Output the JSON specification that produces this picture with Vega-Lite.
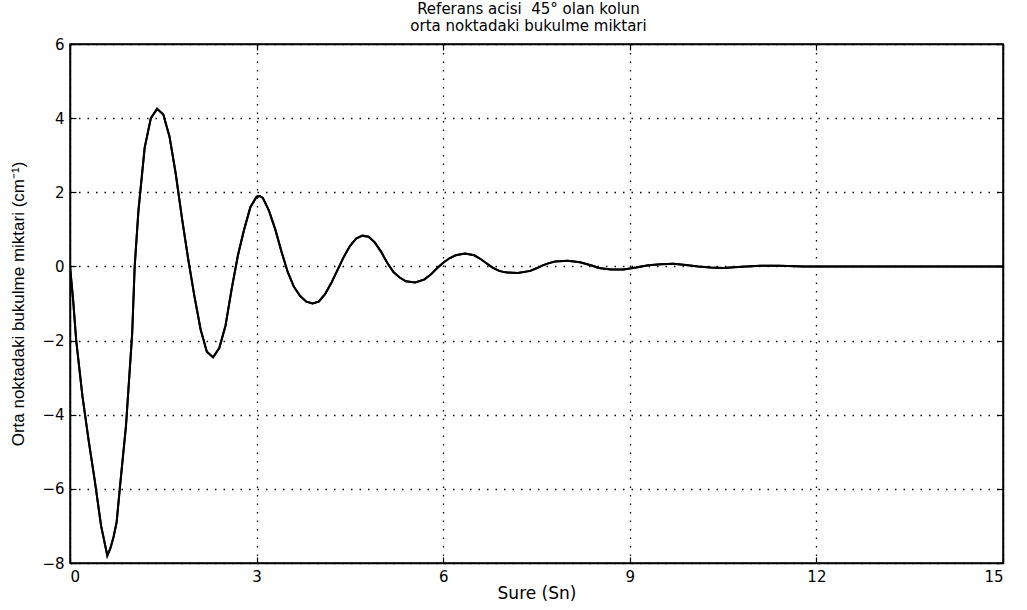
{
  "$schema": "https://vega.github.io/schema/vega-lite/v6.json",
  "width": 933,
  "height": 519,
  "autosize": "none",
  "padding": {"left": 70, "top": 44, "right": 24, "bottom": 47},
  "background": "white",
  "title": {
    "text": ["Referans acisi \u00a045° olan kolun", "orta noktadaki bukulme miktari"],
    "font": "DejaVu Sans",
    "fontSize": 15,
    "fontWeight": "normal",
    "color": "black",
    "anchor": "middle",
    "dx": -8,
    "offset": 3,
    "lineHeight": 17
  },
  "config": {
    "view": {"stroke": "black", "strokeWidth": 1.5},
    "axis": {
      "labelFont": "DejaVu Sans",
      "titleFont": "DejaVu Sans",
      "labelFontSize": 15,
      "titleFontSize": 17,
      "titleFontWeight": "normal",
      "labelColor": "black",
      "titleColor": "black",
      "domainColor": "black",
      "domainWidth": 1.5,
      "tickColor": "black",
      "tickSize": -6,
      "tickWidth": 1.2,
      "grid": false
    }
  },
  "data": {
    "values": [
      {"t": 0, "y": 0}, {"t": 0.05, "y": -0.9}, {"t": 0.1, "y": -2.0}, {"t": 0.2, "y": -3.5},
      {"t": 0.3, "y": -4.7}, {"t": 0.4, "y": -5.8}, {"t": 0.5, "y": -7.0}, {"t": 0.6, "y": -7.8},
      {"t": 0.65, "y": -7.6}, {"t": 0.7, "y": -7.3}, {"t": 0.75, "y": -6.9}, {"t": 0.8, "y": -6.0},
      {"t": 0.9, "y": -4.3}, {"t": 1.0, "y": -1.8}, {"t": 1.04, "y": 0}, {"t": 1.1, "y": 1.5},
      {"t": 1.2, "y": 3.2}, {"t": 1.3, "y": 4.0}, {"t": 1.4, "y": 4.25}, {"t": 1.5, "y": 4.1},
      {"t": 1.6, "y": 3.5}, {"t": 1.7, "y": 2.5}, {"t": 1.8, "y": 1.3}, {"t": 1.9, "y": 0.2},
      {"t": 2.0, "y": -0.8}, {"t": 2.1, "y": -1.7}, {"t": 2.2, "y": -2.3}, {"t": 2.3, "y": -2.45},
      {"t": 2.4, "y": -2.2}, {"t": 2.5, "y": -1.6}, {"t": 2.6, "y": -0.6}, {"t": 2.7, "y": 0.3},
      {"t": 2.8, "y": 1.0}, {"t": 2.9, "y": 1.6}, {"t": 3.0, "y": 1.88}, {"t": 3.05, "y": 1.9},
      {"t": 3.1, "y": 1.85}, {"t": 3.2, "y": 1.5}, {"t": 3.3, "y": 1.0}, {"t": 3.4, "y": 0.4},
      {"t": 3.5, "y": -0.15}, {"t": 3.6, "y": -0.55}, {"t": 3.7, "y": -0.8}, {"t": 3.8, "y": -0.95},
      {"t": 3.9, "y": -1.0}, {"t": 4.0, "y": -0.95}, {"t": 4.1, "y": -0.75}, {"t": 4.2, "y": -0.45},
      {"t": 4.3, "y": -0.1}, {"t": 4.4, "y": 0.25}, {"t": 4.5, "y": 0.55}, {"t": 4.6, "y": 0.75},
      {"t": 4.7, "y": 0.83}, {"t": 4.8, "y": 0.8}, {"t": 4.9, "y": 0.65}, {"t": 5.0, "y": 0.4},
      {"t": 5.1, "y": 0.1}, {"t": 5.2, "y": -0.15}, {"t": 5.3, "y": -0.3}, {"t": 5.4, "y": -0.4},
      {"t": 5.55, "y": -0.43}, {"t": 5.7, "y": -0.35}, {"t": 5.8, "y": -0.22}, {"t": 5.9, "y": -0.05},
      {"t": 6.0, "y": 0.1}, {"t": 6.1, "y": 0.22}, {"t": 6.2, "y": 0.3}, {"t": 6.35, "y": 0.35},
      {"t": 6.5, "y": 0.3}, {"t": 6.6, "y": 0.2}, {"t": 6.7, "y": 0.08}, {"t": 6.8, "y": -0.04},
      {"t": 6.9, "y": -0.12}, {"t": 7.0, "y": -0.16}, {"t": 7.2, "y": -0.18}, {"t": 7.4, "y": -0.12},
      {"t": 7.5, "y": -0.05}, {"t": 7.6, "y": 0.03}, {"t": 7.7, "y": 0.09}, {"t": 7.8, "y": 0.13},
      {"t": 8.0, "y": 0.15}, {"t": 8.2, "y": 0.11}, {"t": 8.4, "y": 0.02}, {"t": 8.5, "y": -0.04},
      {"t": 8.7, "y": -0.08}, {"t": 8.9, "y": -0.08}, {"t": 9.1, "y": -0.03}, {"t": 9.3, "y": 0.03},
      {"t": 9.5, "y": 0.06}, {"t": 9.7, "y": 0.07}, {"t": 9.9, "y": 0.04}, {"t": 10.1, "y": 0},
      {"t": 10.3, "y": -0.03}, {"t": 10.5, "y": -0.04}, {"t": 10.8, "y": -0.01}, {"t": 11.1, "y": 0.02},
      {"t": 11.4, "y": 0.02}, {"t": 11.8, "y": 0}, {"t": 12.5, "y": 0}, {"t": 13.5, "y": 0},
      {"t": 15, "y": 0}
    ]
  },
  "layer": [
    {
      "mark": {"type": "line", "color": "black", "strokeWidth": 2, "clip": true},
      "encoding": {
        "x": {
          "field": "t",
          "type": "quantitative",
          "scale": {"domain": [0, 15], "nice": false, "zero": false},
          "axis": {"values": [0, 3, 6, 9, 12, 15], "title": "Sure (Sn)", "labelPadding": 12, "titlePadding": 1, "grid": true, "gridColor": "black", "gridDash": [1.5, 7], "gridWidth": 1.3, "gridOpacity": 1}
        },
        "y": {
          "field": "y",
          "type": "quantitative",
          "scale": {"domain": [-8, 6], "nice": false},
          "axis": {"values": [-8, -6, -4, -2, 0, 2, 4, 6], "title": "Orta noktadaki bukulme miktari (cm⁻¹)", "titleFont": "Liberation Sans", "titleFontSize": 17, "labelPadding": 12, "titlePadding": 14, "grid": true, "gridColor": "black", "gridDash": [1.5, 7], "gridWidth": 1.3, "gridOpacity": 1}
        }
      }
    },
    {
      "mark": {"type": "line", "color": "black", "strokeWidth": 2, "clip": true},
      "encoding": {
        "x": {
          "field": "t",
          "type": "quantitative",
          "scale": {"domain": [0, 15], "nice": false, "zero": false},
          "axis": {"orient": "top", "values": [0, 3, 6, 9, 12, 15], "labels": false, "title": null, "grid": false}
        },
        "y": {
          "field": "y",
          "type": "quantitative",
          "scale": {"domain": [-8, 6], "nice": false},
          "axis": {"orient": "right", "values": [-8, -6, -4, -2, 0, 2, 4, 6], "labels": false, "title": null, "grid": false}
        }
      }
    }
  ],
  "resolve": {"scale": {"x": "independent", "y": "independent"}, "axis": {"x": "independent", "y": "independent"}}
}
